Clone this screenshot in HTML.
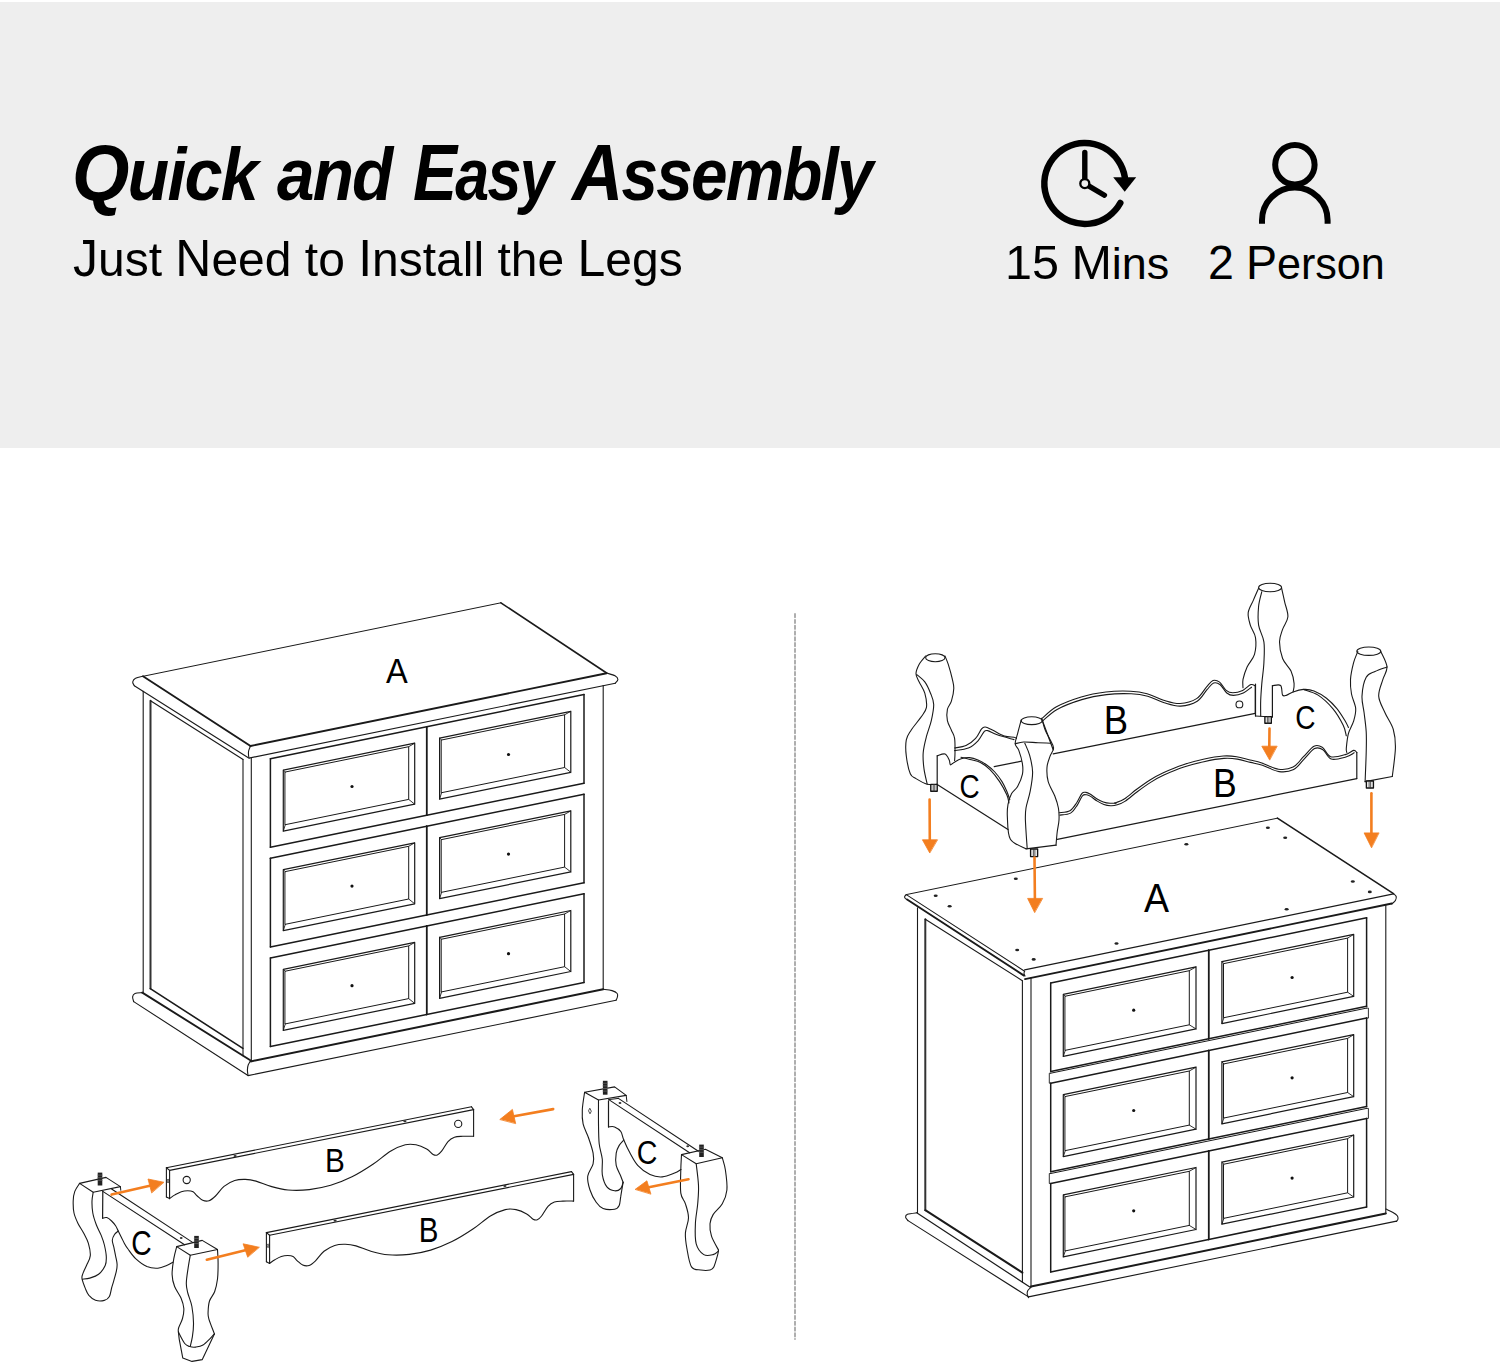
<!DOCTYPE html>
<html><head><meta charset="utf-8">
<style>
html,body{margin:0;padding:0;}
body{width:1500px;height:1365px;background:#fff;position:relative;overflow:hidden;font-family:"Liberation Sans",sans-serif;color:#000;}
.band{position:absolute;left:0;top:2px;width:1500px;height:446px;background:#eeeeee;}
.t{position:absolute;white-space:nowrap;line-height:1;}
.tw{top:133px;font-size:74px;font-weight:bold;font-style:italic;letter-spacing:-2px;transform-origin:0 0;}
.tw .c{font-size:80px;}
#sub{left:72.7px;top:233.3px;font-size:49px;transform-origin:0 0;transform:scaleX(0.9795);}
#sub .C{font-size:51px;}
#mins{left:1004.9px;top:239px;font-size:44px;transform-origin:0 0;transform:scaleX(1.021);}
#mins .C{font-size:47.5px;}
#pers{left:1208px;top:238.7px;font-size:44px;transform-origin:0 0;transform:scaleX(0.98);}
#pers .C{font-size:47.5px;}
svg{position:absolute;left:0;top:0;}
</style></head><body>
<div class="band"></div>
<div class="t tw" id="tw1" style="left:71.7px;transform:scaleX(0.923)"><span class="c">Q</span>uick</div><div class="t tw" id="tw2" style="left:277px;transform:scaleX(0.912)"><span class="c">&#8203;</span>and</div><div class="t tw" id="tw3" style="left:412.6px;transform:scaleX(0.824)"><span class="c">E</span>asy</div><div class="t tw" id="tw4" style="left:572.2px;transform:scaleX(0.887)"><span class="c">A</span>ssembly</div>
<div class="t" id="sub"><span class="C">J</span>ust <span class="C">N</span>eed to <span class="C">I</span>nstall the <span class="C">L</span>egs</div>
<div class="t" id="mins"><span class="C">15</span> <span class="C">M</span>ins</div>
<div class="t" id="pers"><span class="C">2</span> <span class="C">P</span>erson</div>
<svg width="1500" height="1365" viewBox="0 0 1500 1365">
<g id="icons" fill="none" stroke="#000">
<path d="M1120.3 203.0 A40.5 40.5 0 1 1 1124.8 177.0" stroke-width="6.5" stroke-linecap="round"/>
<path d="M1113.2 177.2 L1136.2 177.2 L1124.7 191.7 Z" fill="#000" stroke="none"/>
<path d="M1084.8 152.5 L1084.8 183.6 L1104.4 195.2" stroke-width="5.4" stroke-linecap="round" stroke-linejoin="round"/>
<circle cx="1084.8" cy="183.6" r="4.5" stroke-width="2.3" fill="#eee"/>
<circle cx="1294.9" cy="164.8" r="19.7" stroke-width="6"/>
<path d="M1262 223.7 L1262 220.3 A32.8 32.8 0 0 1 1327.6 220.3 L1327.6 223.7" stroke-width="6"/>
</g>









<!--GEN--><g stroke-linecap="round" stroke-linejoin="round">
<path d="M143 676.3 L500.9 602.8" stroke="#1a1a1a" stroke-width="1.0"/>
<path d="M500.9 602.8 L606.6 673" stroke="#1a1a1a" stroke-width="1.6"/>
<path d="M143 676.3 L250.5 746" stroke="#1a1a1a" stroke-width="1.9"/>
<path d="M250.5 746 L606.6 673.2" stroke="#1a1a1a" stroke-width="1.9"/>
<path d="M143 676.3 C141.8 676.6 137.2 677.3 135.5 678.3 C133.8 679.2 132.9 680.8 132.7 682 C132.5 683.2 134 685.1 134.3 685.7" stroke="#1a1a1a" stroke-width="1.1" fill="none"/>
<path d="M134.3 685.7 L248.3 757.8" stroke="#1a1a1a" stroke-width="1.1"/>
<path d="M250.5 746 C250.2 746.8 248.9 749.5 248.6 751 C248.3 752.5 248.4 753.8 248.5 755 C248.6 756.2 248.9 757.5 249 758" stroke="#1a1a1a" stroke-width="1.1" fill="none"/>
<path d="M249 758.1 L615.3 683.2" stroke="#1a1a1a" stroke-width="1.1"/>
<path d="M606.6 673 C608 673.5 613.1 674.7 615 675.8 C616.9 676.9 617.9 678.3 617.9 679.5 C617.9 680.7 615.7 682.6 615.3 683.2" stroke="#1a1a1a" stroke-width="1.1" fill="none"/>
<path d="M143.2 691.3 L143.2 992.6" stroke="#1a1a1a" stroke-width="1.1"/>
<path d="M150.5 700.7 L150.5 988.6" stroke="#333" stroke-width="2.0"/>
<path d="M150.5 700.7 L242.7 759.2" stroke="#1a1a1a" stroke-width="1.1"/>
<path d="M150.3 988.6 L242.9 1048.4" stroke="#1a1a1a" stroke-width="1.6"/>
<path d="M243 759.2 L243 1055.7" stroke="#1a1a1a" stroke-width="1.1"/>
<path d="M251.3 757.6 L251.3 1061.3" stroke="#1a1a1a" stroke-width="1.1"/>
<path d="M603.2 685.6 L603.2 989.3" stroke="#1a1a1a" stroke-width="1.1"/>
<path d="M270.4 758.7 L426.7 726.7" stroke="#1a1a1a" stroke-width="1.5"/>
<path d="M270.4 847.3 L426.7 815.3" stroke="#1a1a1a" stroke-width="1.5"/>
<path d="M270.4 758.7 L270.4 847.3" stroke="#1a1a1a" stroke-width="1.5"/>
<path d="M426.7 726.7 L426.7 815.3" stroke="#1a1a1a" stroke-width="1.5"/>
<path d="M283.3 770.1 L414.7 743.2 L414.7 804.2 L283.3 831.1 Z" stroke="#1a1a1a" stroke-width="1.2" fill="none"/>
<path d="M285.3 772 L408.7 746.7 L408.7 799.4 L285.3 824.7 Z" stroke="#1a1a1a" stroke-width="1.0" fill="none"/>
<path d="M283.3 770.1 L285.3 772" stroke="#1a1a1a" stroke-width="0.9"/>
<path d="M414.7 743.2 L408.7 746.7" stroke="#1a1a1a" stroke-width="0.9"/>
<path d="M414.7 804.2 L408.7 799.4" stroke="#1a1a1a" stroke-width="0.9"/>
<path d="M283.3 831.1 L285.3 824.7" stroke="#1a1a1a" stroke-width="0.9"/>
<circle cx="352" cy="786.5" r="1.6" fill="#111"/>
<path d="M426.7 726.7 L584 694.6" stroke="#1a1a1a" stroke-width="1.5"/>
<path d="M426.7 815.3 L584 783.2" stroke="#1a1a1a" stroke-width="1.5"/>
<path d="M426.7 726.7 L426.7 815.3" stroke="#1a1a1a" stroke-width="1.5"/>
<path d="M584 694.6 L584 783.2" stroke="#1a1a1a" stroke-width="1.5"/>
<path d="M439.6 738.1 L570.8 711.3 L570.8 772.3 L439.6 799.1 Z" stroke="#1a1a1a" stroke-width="1.2" fill="none"/>
<path d="M441.6 740 L564.6 714.8 L564.6 767.5 L441.6 792.7 Z" stroke="#1a1a1a" stroke-width="1.0" fill="none"/>
<path d="M439.6 738.1 L441.6 740" stroke="#1a1a1a" stroke-width="0.9"/>
<path d="M570.8 711.3 L564.6 714.8" stroke="#1a1a1a" stroke-width="0.9"/>
<path d="M570.8 772.3 L564.6 767.5" stroke="#1a1a1a" stroke-width="0.9"/>
<path d="M439.6 799.1 L441.6 792.7" stroke="#1a1a1a" stroke-width="0.9"/>
<circle cx="508.5" cy="754.5" r="1.6" fill="#111"/>
<path d="M270.4 858.3 L426.7 826.3" stroke="#1a1a1a" stroke-width="1.5"/>
<path d="M270.4 946.9 L426.7 914.9" stroke="#1a1a1a" stroke-width="1.5"/>
<path d="M270.4 858.3 L270.4 946.9" stroke="#1a1a1a" stroke-width="1.5"/>
<path d="M426.7 826.3 L426.7 914.9" stroke="#1a1a1a" stroke-width="1.5"/>
<path d="M283.3 869.7 L414.7 842.8 L414.7 903.8 L283.3 930.7 Z" stroke="#1a1a1a" stroke-width="1.2" fill="none"/>
<path d="M285.3 871.6 L408.7 846.3 L408.7 899 L285.3 924.3 Z" stroke="#1a1a1a" stroke-width="1.0" fill="none"/>
<path d="M283.3 869.7 L285.3 871.6" stroke="#1a1a1a" stroke-width="0.9"/>
<path d="M414.7 842.8 L408.7 846.3" stroke="#1a1a1a" stroke-width="0.9"/>
<path d="M414.7 903.8 L408.7 899" stroke="#1a1a1a" stroke-width="0.9"/>
<path d="M283.3 930.7 L285.3 924.3" stroke="#1a1a1a" stroke-width="0.9"/>
<circle cx="352" cy="886.1" r="1.6" fill="#111"/>
<path d="M426.7 826.3 L584 794.2" stroke="#1a1a1a" stroke-width="1.5"/>
<path d="M426.7 914.9 L584 882.8" stroke="#1a1a1a" stroke-width="1.5"/>
<path d="M426.7 826.3 L426.7 914.9" stroke="#1a1a1a" stroke-width="1.5"/>
<path d="M584 794.2 L584 882.8" stroke="#1a1a1a" stroke-width="1.5"/>
<path d="M439.6 837.7 L570.8 810.9 L570.8 871.9 L439.6 898.7 Z" stroke="#1a1a1a" stroke-width="1.2" fill="none"/>
<path d="M441.6 839.6 L564.6 814.4 L564.6 867.1 L441.6 892.3 Z" stroke="#1a1a1a" stroke-width="1.0" fill="none"/>
<path d="M439.6 837.7 L441.6 839.6" stroke="#1a1a1a" stroke-width="0.9"/>
<path d="M570.8 810.9 L564.6 814.4" stroke="#1a1a1a" stroke-width="0.9"/>
<path d="M570.8 871.9 L564.6 867.1" stroke="#1a1a1a" stroke-width="0.9"/>
<path d="M439.6 898.7 L441.6 892.3" stroke="#1a1a1a" stroke-width="0.9"/>
<circle cx="508.5" cy="854.1" r="1.6" fill="#111"/>
<path d="M270.4 957.9 L426.7 925.9" stroke="#1a1a1a" stroke-width="1.5"/>
<path d="M270.4 1046.5 L426.7 1014.5" stroke="#1a1a1a" stroke-width="1.5"/>
<path d="M270.4 957.9 L270.4 1046.5" stroke="#1a1a1a" stroke-width="1.5"/>
<path d="M426.7 925.9 L426.7 1014.5" stroke="#1a1a1a" stroke-width="1.5"/>
<path d="M283.3 969.3 L414.7 942.4 L414.7 1003.4 L283.3 1030.3 Z" stroke="#1a1a1a" stroke-width="1.2" fill="none"/>
<path d="M285.3 971.2 L408.7 945.9 L408.7 998.6 L285.3 1023.9 Z" stroke="#1a1a1a" stroke-width="1.0" fill="none"/>
<path d="M283.3 969.3 L285.3 971.2" stroke="#1a1a1a" stroke-width="0.9"/>
<path d="M414.7 942.4 L408.7 945.9" stroke="#1a1a1a" stroke-width="0.9"/>
<path d="M414.7 1003.4 L408.7 998.6" stroke="#1a1a1a" stroke-width="0.9"/>
<path d="M283.3 1030.3 L285.3 1023.9" stroke="#1a1a1a" stroke-width="0.9"/>
<circle cx="352" cy="985.7" r="1.6" fill="#111"/>
<path d="M426.7 925.9 L584 893.8" stroke="#1a1a1a" stroke-width="1.5"/>
<path d="M426.7 1014.5 L584 982.4" stroke="#1a1a1a" stroke-width="1.5"/>
<path d="M426.7 925.9 L426.7 1014.5" stroke="#1a1a1a" stroke-width="1.5"/>
<path d="M584 893.8 L584 982.4" stroke="#1a1a1a" stroke-width="1.5"/>
<path d="M439.6 937.3 L570.8 910.5 L570.8 971.5 L439.6 998.3 Z" stroke="#1a1a1a" stroke-width="1.2" fill="none"/>
<path d="M441.6 939.2 L564.6 914 L564.6 966.7 L441.6 991.9 Z" stroke="#1a1a1a" stroke-width="1.0" fill="none"/>
<path d="M439.6 937.3 L441.6 939.2" stroke="#1a1a1a" stroke-width="0.9"/>
<path d="M570.8 910.5 L564.6 914" stroke="#1a1a1a" stroke-width="0.9"/>
<path d="M570.8 971.5 L564.6 966.7" stroke="#1a1a1a" stroke-width="0.9"/>
<path d="M439.6 998.3 L441.6 991.9" stroke="#1a1a1a" stroke-width="0.9"/>
<circle cx="508.5" cy="953.7" r="1.6" fill="#111"/>
<path d="M142.3 992.6 C141.1 992.8 136.6 992.8 135 993.5 C133.4 994.2 132.8 995.4 132.6 996.8 C132.4 998.1 133.5 1000.8 133.7 1001.6" stroke="#1a1a1a" stroke-width="1.1" fill="none"/>
<path d="M142.3 992.6 L250.7 1060.5" stroke="#1a1a1a" stroke-width="1.9"/>
<path d="M133.7 1001.6 L247.6 1075.3" stroke="#1a1a1a" stroke-width="1.1"/>
<path d="M250.7 1060.5 C250.3 1061.2 248.8 1063.4 248.2 1065 C247.6 1066.6 247.4 1068.3 247.4 1070 C247.4 1071.7 247.9 1074.4 248 1075.3" stroke="#1a1a1a" stroke-width="1.1" fill="none"/>
<path d="M250.7 1061.4 L603.2 989.3" stroke="#1a1a1a" stroke-width="2.0"/>
<path d="M248 1075.6 L616 1000.3" stroke="#1a1a1a" stroke-width="1.1"/>
<path d="M603.4 989.3 C604.8 989.5 609.7 989.9 612 990.6 C614.3 991.3 616.3 992.4 617.2 993.5 C618.1 994.6 617.6 995.9 617.4 997 C617.2 998.1 616.2 999.8 616 1000.3" stroke="#1a1a1a" stroke-width="1.1" fill="none"/>
<path d="M906.3 894.6 L1277.4 818.2" stroke="#1a1a1a" stroke-width="1.0"/>
<path d="M1277.4 818.2 L1393.5 893.6" stroke="#1a1a1a" stroke-width="1.6"/>
<path d="M906.3 894.6 L1024.6 971.2" stroke="#1a1a1a" stroke-width="1.1"/>
<path d="M1024.6 969.9 L1393.5 893.9" stroke="#1a1a1a" stroke-width="1.1"/>
<path d="M906.3 894.6 C906 894.9 904.8 896 904.6 896.6 C904.4 897.2 904.9 898 905.3 898.5 C905.7 899 906.8 899.3 907.1 899.5" stroke="#1a1a1a" stroke-width="1.1" fill="none"/>
<path d="M907.1 899.5 L1024 975.6" stroke="#1a1a1a" stroke-width="1.9"/>
<path d="M1024.6 971.2 C1024.5 971.6 1023.9 972.7 1024 973.5 C1024.1 974.3 1024.8 975.7 1025 976.1" stroke="#1a1a1a" stroke-width="1.1" fill="none"/>
<path d="M1025 979.1 L1391.8 903.5" stroke="#1a1a1a" stroke-width="1.9"/>
<path d="M1393.5 893.6 C1394 894.1 1395.9 895.4 1396.2 896.5 C1396.5 897.6 1396.1 899.2 1395.4 900.5 C1394.7 901.8 1392.4 903.4 1391.8 904" stroke="#1a1a1a" stroke-width="1.1" fill="none"/>
<path d="M917.5 907.9 L917.5 1212.8" stroke="#1a1a1a" stroke-width="1.1"/>
<path d="M925.3 919.2 L925.3 1210.2" stroke="#333" stroke-width="2.0"/>
<path d="M925.3 919.2 L1022.4 980.7" stroke="#1a1a1a" stroke-width="1.1"/>
<path d="M925.3 1210.2 L1022.4 1272.6" stroke="#1a1a1a" stroke-width="2.0"/>
<path d="M1022.4 980.7 L1022.4 1282.2" stroke="#1a1a1a" stroke-width="1.1"/>
<path d="M1031 977.8 L1031 1286.6" stroke="#1a1a1a" stroke-width="1.1"/>
<path d="M1385.8 904.7 L1385.8 1213.5" stroke="#1a1a1a" stroke-width="1.1"/>
<path d="M1050.7 982.9 L1208.7 950.3" stroke="#1a1a1a" stroke-width="1.5"/>
<path d="M1050.7 1071.4 L1208.7 1038.8" stroke="#1a1a1a" stroke-width="1.5"/>
<path d="M1050.7 982.9 L1050.7 1071.4" stroke="#1a1a1a" stroke-width="1.5"/>
<path d="M1208.7 950.3 L1208.7 1038.8" stroke="#1a1a1a" stroke-width="1.5"/>
<path d="M1063.3 994.3 L1196 966.9 L1196 1028.9 L1063.3 1056.3 Z" stroke="#1a1a1a" stroke-width="1.2" fill="none"/>
<path d="M1065.3 996.2 L1189.3 970.7 L1189.3 1024.8 L1065.3 1050.3 Z" stroke="#1a1a1a" stroke-width="1.0" fill="none"/>
<path d="M1063.3 994.3 L1065.3 996.2" stroke="#1a1a1a" stroke-width="0.9"/>
<path d="M1196 966.9 L1189.3 970.7" stroke="#1a1a1a" stroke-width="0.9"/>
<path d="M1196 1028.9 L1189.3 1024.8" stroke="#1a1a1a" stroke-width="0.9"/>
<path d="M1063.3 1056.3 L1065.3 1050.3" stroke="#1a1a1a" stroke-width="0.9"/>
<circle cx="1133.7" cy="1010.2" r="1.6" fill="#111"/>
<path d="M1208.7 950.3 L1366.6 917.8" stroke="#1a1a1a" stroke-width="1.5"/>
<path d="M1208.7 1038.8 L1366.6 1006.3" stroke="#1a1a1a" stroke-width="1.5"/>
<path d="M1208.7 950.3 L1208.7 1038.8" stroke="#1a1a1a" stroke-width="1.5"/>
<path d="M1366.6 917.8 L1366.6 1006.3" stroke="#1a1a1a" stroke-width="1.5"/>
<path d="M1221.9 961.6 L1353.7 934.4 L1353.7 996.4 L1221.9 1023.6 Z" stroke="#1a1a1a" stroke-width="1.2" fill="none"/>
<path d="M1223.9 963.6 L1347.6 938.1 L1347.6 992.2 L1223.9 1017.7 Z" stroke="#1a1a1a" stroke-width="1.0" fill="none"/>
<path d="M1221.9 961.6 L1223.9 963.6" stroke="#1a1a1a" stroke-width="0.9"/>
<path d="M1353.7 934.4 L1347.6 938.1" stroke="#1a1a1a" stroke-width="0.9"/>
<path d="M1353.7 996.4 L1347.6 992.2" stroke="#1a1a1a" stroke-width="0.9"/>
<path d="M1221.9 1023.6 L1223.9 1017.7" stroke="#1a1a1a" stroke-width="0.9"/>
<circle cx="1292.1" cy="977.5" r="1.6" fill="#111"/>
<path d="M1050.7 1073.2 L1366.6 1008.1" stroke="#1a1a1a" stroke-width="1.0"/>
<path d="M1050.7 1073.2 L1049.3 1073.2 L1049.3 1083.2 L1050.7 1083.2" stroke="#1a1a1a" stroke-width="0.9" fill="none"/>
<path d="M1366.6 1008.1 L1368.4 1008.1 L1368.4 1018.1 L1366.6 1018.1" stroke="#1a1a1a" stroke-width="0.9" fill="none"/>
<path d="M1050.7 1083.2 L1208.7 1050.6" stroke="#1a1a1a" stroke-width="1.5"/>
<path d="M1050.7 1171.7 L1208.7 1139.1" stroke="#1a1a1a" stroke-width="1.5"/>
<path d="M1050.7 1083.2 L1050.7 1171.7" stroke="#1a1a1a" stroke-width="1.5"/>
<path d="M1208.7 1050.6 L1208.7 1139.1" stroke="#1a1a1a" stroke-width="1.5"/>
<path d="M1063.3 1094.6 L1196 1067.2 L1196 1129.2 L1063.3 1156.6 Z" stroke="#1a1a1a" stroke-width="1.2" fill="none"/>
<path d="M1065.3 1096.5 L1189.3 1071 L1189.3 1125.1 L1065.3 1150.6 Z" stroke="#1a1a1a" stroke-width="1.0" fill="none"/>
<path d="M1063.3 1094.6 L1065.3 1096.5" stroke="#1a1a1a" stroke-width="0.9"/>
<path d="M1196 1067.2 L1189.3 1071" stroke="#1a1a1a" stroke-width="0.9"/>
<path d="M1196 1129.2 L1189.3 1125.1" stroke="#1a1a1a" stroke-width="0.9"/>
<path d="M1063.3 1156.6 L1065.3 1150.6" stroke="#1a1a1a" stroke-width="0.9"/>
<circle cx="1133.7" cy="1110.5" r="1.6" fill="#111"/>
<path d="M1208.7 1050.6 L1366.6 1018.1" stroke="#1a1a1a" stroke-width="1.5"/>
<path d="M1208.7 1139.1 L1366.6 1106.6" stroke="#1a1a1a" stroke-width="1.5"/>
<path d="M1208.7 1050.6 L1208.7 1139.1" stroke="#1a1a1a" stroke-width="1.5"/>
<path d="M1366.6 1018.1 L1366.6 1106.6" stroke="#1a1a1a" stroke-width="1.5"/>
<path d="M1221.9 1061.9 L1353.7 1034.7 L1353.7 1096.7 L1221.9 1123.9 Z" stroke="#1a1a1a" stroke-width="1.2" fill="none"/>
<path d="M1223.9 1063.9 L1347.6 1038.4 L1347.6 1092.5 L1223.9 1118 Z" stroke="#1a1a1a" stroke-width="1.0" fill="none"/>
<path d="M1221.9 1061.9 L1223.9 1063.9" stroke="#1a1a1a" stroke-width="0.9"/>
<path d="M1353.7 1034.7 L1347.6 1038.4" stroke="#1a1a1a" stroke-width="0.9"/>
<path d="M1353.7 1096.7 L1347.6 1092.5" stroke="#1a1a1a" stroke-width="0.9"/>
<path d="M1221.9 1123.9 L1223.9 1118" stroke="#1a1a1a" stroke-width="0.9"/>
<circle cx="1292.1" cy="1077.8" r="1.6" fill="#111"/>
<path d="M1050.7 1173.5 L1366.6 1108.4" stroke="#1a1a1a" stroke-width="1.0"/>
<path d="M1050.7 1173.5 L1049.3 1173.5 L1049.3 1183.5 L1050.7 1183.5" stroke="#1a1a1a" stroke-width="0.9" fill="none"/>
<path d="M1366.6 1108.4 L1368.4 1108.4 L1368.4 1118.4 L1366.6 1118.4" stroke="#1a1a1a" stroke-width="0.9" fill="none"/>
<path d="M1050.7 1183.5 L1208.7 1150.9" stroke="#1a1a1a" stroke-width="1.5"/>
<path d="M1050.7 1272 L1208.7 1239.4" stroke="#1a1a1a" stroke-width="1.5"/>
<path d="M1050.7 1183.5 L1050.7 1272" stroke="#1a1a1a" stroke-width="1.5"/>
<path d="M1208.7 1150.9 L1208.7 1239.4" stroke="#1a1a1a" stroke-width="1.5"/>
<path d="M1063.3 1194.9 L1196 1167.5 L1196 1229.5 L1063.3 1256.9 Z" stroke="#1a1a1a" stroke-width="1.2" fill="none"/>
<path d="M1065.3 1196.8 L1189.3 1171.3 L1189.3 1225.4 L1065.3 1250.9 Z" stroke="#1a1a1a" stroke-width="1.0" fill="none"/>
<path d="M1063.3 1194.9 L1065.3 1196.8" stroke="#1a1a1a" stroke-width="0.9"/>
<path d="M1196 1167.5 L1189.3 1171.3" stroke="#1a1a1a" stroke-width="0.9"/>
<path d="M1196 1229.5 L1189.3 1225.4" stroke="#1a1a1a" stroke-width="0.9"/>
<path d="M1063.3 1256.9 L1065.3 1250.9" stroke="#1a1a1a" stroke-width="0.9"/>
<circle cx="1133.7" cy="1210.8" r="1.6" fill="#111"/>
<path d="M1208.7 1150.9 L1366.6 1118.4" stroke="#1a1a1a" stroke-width="1.5"/>
<path d="M1208.7 1239.4 L1366.6 1206.9" stroke="#1a1a1a" stroke-width="1.5"/>
<path d="M1208.7 1150.9 L1208.7 1239.4" stroke="#1a1a1a" stroke-width="1.5"/>
<path d="M1366.6 1118.4 L1366.6 1206.9" stroke="#1a1a1a" stroke-width="1.5"/>
<path d="M1221.9 1162.2 L1353.7 1135 L1353.7 1197 L1221.9 1224.2 Z" stroke="#1a1a1a" stroke-width="1.2" fill="none"/>
<path d="M1223.9 1164.2 L1347.6 1138.7 L1347.6 1192.8 L1223.9 1218.3 Z" stroke="#1a1a1a" stroke-width="1.0" fill="none"/>
<path d="M1221.9 1162.2 L1223.9 1164.2" stroke="#1a1a1a" stroke-width="0.9"/>
<path d="M1353.7 1135 L1347.6 1138.7" stroke="#1a1a1a" stroke-width="0.9"/>
<path d="M1353.7 1197 L1347.6 1192.8" stroke="#1a1a1a" stroke-width="0.9"/>
<path d="M1221.9 1224.2 L1223.9 1218.3" stroke="#1a1a1a" stroke-width="0.9"/>
<circle cx="1292.1" cy="1178.1" r="1.6" fill="#111"/>
<path d="M916.7 1212.8 C915.2 1213 909.4 1213.6 907.5 1214.3 C905.6 1215 905.5 1216.2 905.6 1217.2 C905.7 1218.2 907.6 1220 908 1220.6" stroke="#1a1a1a" stroke-width="1.1" fill="none"/>
<path d="M916.7 1212.8 L1030.2 1287.3" stroke="#1a1a1a" stroke-width="1.2"/>
<path d="M908 1220.6 L1028.5 1296.9" stroke="#1a1a1a" stroke-width="1.1"/>
<path d="M1031 1287.3 C1030.5 1287.8 1028.4 1289.4 1027.8 1290.5 C1027.2 1291.6 1027.1 1292.8 1027.2 1294 C1027.3 1295.2 1028.3 1297.1 1028.5 1297.7" stroke="#1a1a1a" stroke-width="1.1" fill="none"/>
<path d="M1031 1286.6 L1385.8 1213.5" stroke="#1a1a1a" stroke-width="2.0"/>
<path d="M1028.5 1296.9 L1396.5 1221.1" stroke="#1a1a1a" stroke-width="1.1"/>
<path d="M1385.9 1209.1 C1387.1 1209.7 1391.1 1211.4 1393 1212.5 C1394.9 1213.6 1396.5 1214.7 1397.3 1215.8 C1398.1 1216.9 1398.1 1218 1398 1219 C1397.9 1220 1396.8 1221.1 1396.5 1221.5" stroke="#1a1a1a" stroke-width="1.1" fill="none"/>
<ellipse cx="935.7" cy="895.8" rx="2" ry="1.3" fill="#222"/>
<ellipse cx="949.6" cy="906.2" rx="2" ry="1.3" fill="#222"/>
<ellipse cx="1015.8" cy="878.8" rx="2" ry="1.3" fill="#222"/>
<ellipse cx="1017.2" cy="950" rx="2" ry="1.3" fill="#222"/>
<ellipse cx="1033.7" cy="959.4" rx="2" ry="1.3" fill="#222"/>
<ellipse cx="1116.5" cy="943.5" rx="2" ry="1.3" fill="#222"/>
<ellipse cx="1267.9" cy="827.7" rx="2" ry="1.3" fill="#222"/>
<ellipse cx="1285.2" cy="837.8" rx="2" ry="1.3" fill="#222"/>
<ellipse cx="1186.4" cy="844.2" rx="2" ry="1.3" fill="#222"/>
<ellipse cx="1352.8" cy="881.5" rx="2" ry="1.3" fill="#222"/>
<ellipse cx="1369.8" cy="891.9" rx="2" ry="1.3" fill="#222"/>
<ellipse cx="1286.6" cy="909.2" rx="2" ry="1.3" fill="#222"/>
<path d="M795 614 L795 1339" stroke="#a6a6a6" stroke-width="1.8" stroke-dasharray="3.3 2.5"/>
<path d="M166.4 1167.8 L471.5 1106.8" stroke="#1a1a1a" stroke-width="1.1"/>
<path d="M169.6 1170.4 L473.6 1109.6" stroke="#1a1a1a" stroke-width="1.1"/>
<path d="M471.5 1106.8 L473.6 1109.6" stroke="#1a1a1a" stroke-width="1.1"/>
<path d="M166.4 1167.8 L169.6 1170.4" stroke="#1a1a1a" stroke-width="1.1"/>
<path d="M473.6 1109.6 L473.6 1136.3" stroke="#1a1a1a" stroke-width="1.1"/>
<path d="M166.4 1167.8 L166.4 1197" stroke="#1a1a1a" stroke-width="1.1"/>
<path d="M169.6 1170.4 L169.6 1198.6" stroke="#1a1a1a" stroke-width="1.1"/>
<path d="M166.4 1197 L169.6 1198.6" stroke="#1a1a1a" stroke-width="1.1"/>
<path d="M169.6 1198.6 C170.5 1198 172.9 1196.1 174.9 1194.9 C176.9 1193.8 179.2 1192.4 181.3 1191.7 C183.4 1191 185.7 1190.7 187.7 1190.7 C189.7 1190.7 191.5 1190.8 193.1 1191.7 C194.7 1192.6 195.7 1194.6 197.3 1196 C198.9 1197.4 200.7 1199.5 202.7 1200.3 C204.7 1201.1 207 1201.4 209.1 1200.7 C211.2 1200 213 1198.4 215.5 1196 C218 1193.6 220.8 1189 224 1186.4 C227.2 1183.8 231.1 1181.8 234.7 1180.6 C238.2 1179.4 241.8 1179.3 245.3 1179.4 C248.9 1179.5 251.7 1179.9 256 1181.1 C260.3 1182.3 265.6 1184.9 270.9 1186.4 C276.2 1187.9 281.6 1189.5 288 1190 C294.4 1190.5 302.2 1190.4 309.3 1189.6 C316.4 1188.8 323.6 1187.4 330.7 1185.3 C337.8 1183.2 344.9 1180.3 352 1176.8 C359.1 1173.2 366.9 1168.3 373.3 1164 C379.7 1159.7 385.1 1154.4 390.4 1151.2 C395.7 1148 401 1145.9 405.3 1144.8 C409.6 1143.7 412.4 1144.1 416 1144.8 C419.6 1145.5 423.8 1147.5 426.7 1149.1 C429.6 1150.7 431.3 1153.4 433.1 1154.4 C434.9 1155.4 435.9 1155.5 437.3 1155 C438.7 1154.5 439.8 1153.4 441.6 1151.2 C443.4 1149 445.9 1143.9 448 1141.6 C450.1 1139.3 451.9 1138.2 454.4 1137.3 C456.9 1136.4 459.7 1136.5 462.9 1136.3 C466.1 1136.1 471.8 1136.3 473.6 1136.3" stroke="#1a1a1a" stroke-width="1.1" fill="none"/>
<circle cx="186.7" cy="1180" r="3.6" fill="none" stroke="#1a1a1a" stroke-width="1.1"/>
<circle cx="458.2" cy="1123.9" r="3.6" fill="none" stroke="#1a1a1a" stroke-width="1.1"/>
<ellipse cx="168.1" cy="1181" rx="1" ry="1.8" fill="none" stroke="#222" stroke-width="0.8"/>
<ellipse cx="235.1" cy="1155.9" rx="1.6" ry="1" fill="#333"/>
<ellipse cx="404.9" cy="1121.3" rx="1.6" ry="1" fill="#333"/>
<path d="M266.4 1232.6 L571.5 1171.6" stroke="#1a1a1a" stroke-width="1.1"/>
<path d="M269.6 1235.2 L573.6 1174.4" stroke="#1a1a1a" stroke-width="1.1"/>
<path d="M571.5 1171.6 L573.6 1174.4" stroke="#1a1a1a" stroke-width="1.1"/>
<path d="M266.4 1232.6 L269.6 1235.2" stroke="#1a1a1a" stroke-width="1.1"/>
<path d="M573.6 1174.4 L573.6 1201.1" stroke="#1a1a1a" stroke-width="1.1"/>
<path d="M266.4 1232.6 L266.4 1261.8" stroke="#1a1a1a" stroke-width="1.1"/>
<path d="M269.6 1235.2 L269.6 1263.4" stroke="#1a1a1a" stroke-width="1.1"/>
<path d="M266.4 1261.8 L269.6 1263.4" stroke="#1a1a1a" stroke-width="1.1"/>
<path d="M269.6 1263.4 C270.5 1262.8 272.9 1260.8 274.9 1259.7 C276.8 1258.6 279.2 1257.2 281.3 1256.5 C283.4 1255.8 285.7 1255.5 287.7 1255.5 C289.7 1255.5 291.5 1255.6 293.1 1256.5 C294.7 1257.4 295.7 1259.4 297.3 1260.8 C298.9 1262.2 300.7 1264.3 302.7 1265.1 C304.7 1265.9 307 1266.2 309.1 1265.5 C311.2 1264.8 313 1263.2 315.5 1260.8 C318 1258.4 320.8 1253.8 324 1251.2 C327.2 1248.6 331.1 1246.6 334.7 1245.4 C338.2 1244.2 341.8 1244.1 345.3 1244.2 C348.9 1244.3 351.7 1244.7 356 1245.9 C360.3 1247.1 365.6 1249.7 370.9 1251.2 C376.2 1252.7 381.6 1254.3 388 1254.8 C394.4 1255.3 402.2 1255.2 409.3 1254.4 C416.4 1253.6 423.6 1252.2 430.7 1250.1 C437.8 1248 444.9 1245.1 452 1241.6 C459.1 1238 466.9 1233.1 473.3 1228.8 C479.7 1224.5 485.1 1219.2 490.4 1216 C495.7 1212.8 501 1210.7 505.3 1209.6 C509.6 1208.5 512.4 1208.9 516 1209.6 C519.6 1210.3 523.9 1212.3 526.7 1213.9 C529.6 1215.5 531.3 1218.2 533.1 1219.2 C534.9 1220.2 535.9 1220.3 537.3 1219.8 C538.7 1219.3 539.8 1218.2 541.6 1216 C543.4 1213.8 545.9 1208.7 548 1206.4 C550.1 1204.1 551.9 1203 554.4 1202.1 C556.9 1201.2 559.7 1201.3 562.9 1201.1 C566.1 1200.9 571.8 1201.1 573.6 1201.1" stroke="#1a1a1a" stroke-width="1.1" fill="none"/>
<ellipse cx="268.1" cy="1245.8" rx="1" ry="1.8" fill="none" stroke="#222" stroke-width="0.8"/>
<ellipse cx="335.1" cy="1220.7" rx="1.6" ry="1" fill="#333"/>
<ellipse cx="504.9" cy="1186.1" rx="1.6" ry="1" fill="#333"/>
<path d="M79.6 1183.4 L106 1177.4 L120.4 1186.6 L93.2 1192.2 Z" stroke="#1a1a1a" stroke-width="1.1" fill="none"/>
<path d="M120.4 1186.6 L120.8 1190.3" stroke="#1a1a1a" stroke-width="1.0"/>
<rect x="97.7" y="1172.6" width="4.6" height="12.9" fill="#222"/>
<path d="M97.7 1175.1 L102.3 1175.1" stroke="#777" stroke-width="0.6"/>
<path d="M97.7 1177.7 L102.3 1177.7" stroke="#777" stroke-width="0.6"/>
<path d="M97.7 1180.3 L102.3 1180.3" stroke="#777" stroke-width="0.6"/>
<path d="M79.6 1183.4 C78.8 1184.7 75.9 1188.5 74.8 1191.4 C73.7 1194.3 73.3 1197.4 73.2 1201 C73.1 1204.6 73.2 1209.3 74 1213 C74.8 1216.7 76.4 1220.1 78 1223.4 C79.6 1226.7 81.9 1229.7 83.6 1233 C85.3 1236.3 87.3 1239.6 88.4 1243.4 C89.5 1247.2 90.6 1251.9 90.3 1255.6 C90 1259.3 87.8 1262.4 86.5 1265.5 C85.2 1268.6 83.3 1272 82.6 1274.3 C81.9 1276.6 81.6 1276.8 82.1 1279.2 C82.6 1281.6 84.3 1285.9 85.4 1288.6 C86.5 1291.3 87.2 1293.3 88.9 1295.3 C90.6 1297.2 92.9 1299.4 95.5 1300.3 C98.1 1301.2 102 1301.1 104.3 1300.4 C106.6 1299.8 108.2 1298.5 109.4 1296.4 C110.6 1294.3 110.9 1290.6 111.6 1288 C112.3 1285.4 113 1283.5 113.8 1280.6 C114.6 1277.7 115.9 1273.5 116.4 1270.8 C117 1268.1 117.2 1266.7 117.1 1264.2 C117 1261.7 116.1 1258.7 115.6 1256 C115.1 1253.3 114.5 1250.5 114 1247.9 C113.5 1245.3 112.2 1242.4 112.3 1240.2 C112.4 1238 113.5 1236 114.5 1234.5 C115.5 1233 117.6 1231.6 118.2 1231" stroke="#1a1a1a" stroke-width="1.1" fill="none"/>
<path d="M93.2 1192.2 C93 1193.7 92.1 1197.5 92 1201 C91.9 1204.5 92.1 1209 92.8 1213 C93.5 1217 95 1221.3 96.4 1225 C97.8 1228.7 99.9 1232.1 101.2 1235.4 C102.5 1238.7 103.6 1241.5 104.4 1245 C105.2 1248.5 106.2 1253.3 106.3 1256.7 C106.4 1260.1 106.5 1262.6 105.2 1265.5 C103.9 1268.4 101.2 1272.2 98.6 1274.3 C96 1276.4 92.5 1277.3 89.8 1278.1 C87.1 1278.9 83.6 1279 82.4 1279.2" stroke="#1a1a1a" stroke-width="1.1" fill="none"/>
<path d="M102.8 1191.4 L102.6 1218.2" stroke="#1a1a1a" stroke-width="1.2"/>
<path d="M102.6 1218.2 C103.3 1218.1 105.3 1217.1 106.8 1217.6 C108.3 1218.1 110.1 1219.6 111.6 1221 C113.1 1222.4 114.5 1224.2 115.6 1225.8 C116.7 1227.4 117.1 1228.7 118 1230.6 C118.9 1232.5 120.1 1234.9 121.2 1237 C122.3 1239.1 123.3 1241.4 124.4 1243.4 C125.5 1245.4 126.1 1246.4 128 1249 C129.9 1251.6 132.8 1256 135.9 1258.9 C139.1 1261.8 143.2 1265 146.9 1266.6 C150.6 1268.1 154.6 1268.4 157.9 1268.2 C161.2 1268 164.2 1266.5 166.7 1265.5 C169.2 1264.5 171.8 1262.8 172.8 1262.3" stroke="#1a1a1a" stroke-width="1.1" fill="none"/>
<path d="M111.6 1189 L192.6 1242.4" stroke="#1a1a1a" stroke-width="1.1"/>
<path d="M102.8 1191.4 L184.6 1244.8" stroke="#1a1a1a" stroke-width="1.1"/>
<ellipse cx="181.2" cy="1238.1" rx="1.4" ry="1" fill="#333"/>
<path d="M176.7 1246.6 L202.2 1240.4 L217.5 1249.5 L190.3 1255.2 Z" stroke="#1a1a1a" stroke-width="1.1" fill="none"/>
<rect x="194.2" y="1235.9" width="4.6" height="12.1" fill="#222"/>
<path d="M194.2 1238.4 L198.8 1238.4" stroke="#777" stroke-width="0.6"/>
<path d="M194.2 1241 L198.8 1241" stroke="#777" stroke-width="0.6"/>
<path d="M194.2 1243.6 L198.8 1243.6" stroke="#777" stroke-width="0.6"/>
<path d="M176.7 1246.6 C176.2 1248.6 174.6 1253.9 173.8 1258.6 C173 1263.2 172 1269.8 172.1 1274.5 C172.2 1279.2 173.1 1282.6 174.6 1286.5 C176.1 1290.4 179.5 1294.4 181 1298 C182.5 1301.6 183.6 1304.9 183.8 1308.3 C184.1 1311.7 183.4 1315.2 182.5 1318.5 C181.6 1321.8 179.3 1325.7 178.6 1328 C177.9 1330.3 178.4 1331.4 178.4 1332.1" stroke="#1a1a1a" stroke-width="1.1" fill="none"/>
<path d="M178.4 1332.1 L179.2 1339.1 L182.8 1358.1 L192 1361.4 L202.3 1359.6 L214.4 1333.9" stroke="#1a1a1a" stroke-width="1.1" fill="none"/>
<path d="M178.4 1332.1 C179.4 1334 182.8 1341.1 184.7 1343.5 C186.6 1345.9 188 1346 189.8 1346.6 C191.6 1347.2 193.5 1347.4 195.7 1347.1 C197.9 1346.8 200.6 1346.5 203 1345 C205.4 1343.5 208.4 1340.1 210.3 1338.3 C212.2 1336.5 213.7 1334.6 214.4 1333.9" stroke="#1a1a1a" stroke-width="1.1" fill="none"/>
<path d="M190.3 1255.2 C189.9 1257.5 188.7 1264.1 188 1268.8 C187.3 1273.5 186.3 1279.5 186.3 1283.5 C186.3 1287.5 186.9 1289.2 187.8 1293 C188.7 1296.8 191 1301.5 191.9 1306.5 C192.8 1311.5 193.4 1318 193.5 1323 C193.6 1328 193 1332.8 192.4 1336.7 C191.8 1340.6 190.6 1344.8 190.2 1346.4" stroke="#1a1a1a" stroke-width="1.1" fill="none"/>
<path d="M217.5 1249.5 C217.6 1251.8 218.1 1258.2 218.1 1263.1 C218.1 1268 218.1 1274.3 217.5 1279 C216.9 1283.7 216 1287.8 214.7 1291.5 C213.4 1295.2 210.6 1297.6 209.5 1301 C208.4 1304.4 208.2 1309 208.1 1312 C208 1315 207.8 1315.4 208.9 1319.1 C210 1322.8 213.5 1331.4 214.4 1333.9" stroke="#1a1a1a" stroke-width="1.1" fill="none"/>
<path d="M584.6 1092.3 L614.6 1086.9 L626.2 1095.4 L598.5 1100 Z" stroke="#1a1a1a" stroke-width="1.1" fill="none"/>
<path d="M626.2 1095.4 L626.9 1101.5" stroke="#1a1a1a" stroke-width="1.0"/>
<rect x="602.9" y="1080.8" width="4.6" height="13.9" fill="#222"/>
<path d="M602.9 1083.3 L607.5 1083.3" stroke="#777" stroke-width="0.6"/>
<path d="M602.9 1085.9 L607.5 1085.9" stroke="#777" stroke-width="0.6"/>
<path d="M602.9 1088.5 L607.5 1088.5" stroke="#777" stroke-width="0.6"/>
<path d="M602.9 1091.1 L607.5 1091.1" stroke="#777" stroke-width="0.6"/>
<path d="M584.6 1092.3 C584.2 1095.2 582.5 1104.8 582.3 1110 C582 1115.2 582.1 1119.2 583.1 1123.8 C584.1 1128.4 586.8 1132.8 588.5 1137.7 C590.2 1142.6 592.3 1148.8 593.1 1153.1 C593.9 1157.4 594 1159.9 593.1 1163.8 C592.2 1167.7 588.2 1171.8 587.7 1176.2 C587.2 1180.6 588.6 1185.7 590 1190 C591.4 1194.3 594 1199.2 596.2 1202.3 C598.4 1205.4 600 1207.3 603.1 1208.5 C606.2 1209.7 611.9 1209.7 614.6 1209.2 C617.3 1208.7 618.2 1207.6 619.2 1205.4 C620.2 1203.2 620.1 1200.1 620.8 1196.2 C621.4 1192.3 622.7 1184.6 623.1 1182.3" stroke="#1a1a1a" stroke-width="1.1" fill="none"/>
<path d="M598.5 1100 C598.5 1104 598.4 1116.5 598.5 1123.8 C598.6 1131.1 598.6 1137.9 599.2 1143.8 C599.8 1149.7 601.8 1154.1 602.3 1159.2 C602.8 1164.3 601.5 1170 602.3 1174.6 C603.1 1179.2 604.8 1184.2 606.9 1186.9 C609 1189.6 612.3 1190.5 614.6 1190.8 C616.9 1191.1 619.4 1189.9 620.8 1188.5 C622.2 1187.1 622.7 1183.3 623.1 1182.3" stroke="#1a1a1a" stroke-width="1.1" fill="none"/>
<path d="M608.5 1100.8 L608.5 1126.9" stroke="#1a1a1a" stroke-width="1.2"/>
<path d="M608.5 1126.9 C609.5 1126.9 612.6 1126.1 614.6 1126.9 C616.6 1127.7 619.3 1129.3 620.8 1131.5 C622.3 1133.7 622.3 1136.4 623.8 1140 C625.3 1143.6 627.7 1148.9 630 1153.1 C632.3 1157.3 634.4 1161.8 637.7 1165.4 C641 1169 645.9 1172.7 650 1174.6 C654.1 1176.5 658.2 1177.2 662.3 1176.9 C666.4 1176.7 671.5 1174.3 674.6 1173.1 C677.7 1171.9 679.9 1170.1 681 1169.5" stroke="#1a1a1a" stroke-width="1.1" fill="none"/>
<path d="M623.8 1140 C623 1140.9 620.5 1143.2 619.2 1145.4 C617.9 1147.6 616.7 1149.8 616.2 1153.1 C615.7 1156.4 615.4 1161.6 616.2 1165.4 C617 1169.2 619.6 1173.4 620.8 1176.2 C621.9 1179 622.7 1181.3 623.1 1182.3" stroke="#1a1a1a" stroke-width="1.1" fill="none"/>
<path d="M590 1108.6 L591.3 1111.2 L590 1113.8 L588.7 1111.2 Z" fill="none" stroke="#222" stroke-width="0.8"/>
<path d="M608.8 1099.6 L689.6 1152.8" stroke="#1a1a1a" stroke-width="1.1"/>
<path d="M618.4 1098.4 L698.4 1151.2" stroke="#1a1a1a" stroke-width="1.1"/>
<path d="M608.8 1099.6 L618.4 1098.4" stroke="#1a1a1a" stroke-width="1.0"/>
<ellipse cx="620" cy="1103.1" rx="1.4" ry="1" fill="#333"/><ellipse cx="687.7" cy="1146.2" rx="1.4" ry="1" fill="#333"/>
<path d="M681.5 1154.6 L705.4 1149.2 L722.3 1157.7 L696.2 1163.8 Z" stroke="#1a1a1a" stroke-width="1.1" fill="none"/>
<rect x="699.2" y="1144.6" width="4.6" height="12.4" fill="#222"/>
<path d="M699.2 1147.1 L703.8 1147.1" stroke="#777" stroke-width="0.6"/>
<path d="M699.2 1149.7 L703.8 1149.7" stroke="#777" stroke-width="0.6"/>
<path d="M699.2 1152.3 L703.8 1152.3" stroke="#777" stroke-width="0.6"/>
<path d="M681.5 1154.6 C681.4 1157.2 680.9 1163.6 680.8 1170 C680.7 1176.4 680 1187.5 680.8 1193.1 C681.6 1198.7 684.1 1199.7 685.4 1203.8 C686.7 1207.9 688.5 1212.8 688.5 1217.7 C688.5 1222.6 685.7 1228 685.4 1233.1 C685.1 1238.2 685.9 1242.9 686.9 1248.5 C687.9 1254.1 689.2 1263.3 691.5 1266.9 C693.8 1270.5 697.7 1269.5 700.8 1270 C703.9 1270.5 707.8 1270.5 710 1270 C712.2 1269.5 712.5 1269.5 713.8 1266.9 C715.1 1264.3 716.9 1257.4 717.7 1254.6 C718.5 1251.8 718.4 1250.8 718.5 1250" stroke="#1a1a1a" stroke-width="1.1" fill="none"/>
<path d="M696.2 1163.8 C696.6 1167.4 698.2 1178.7 698.5 1185.4 C698.8 1192.1 698.2 1197.4 697.7 1203.8 C697.2 1210.2 695.6 1217.1 695.4 1223.8 C695.1 1230.5 694.8 1238.7 696.2 1243.8 C697.6 1248.9 701 1252.8 703.8 1254.6 C706.6 1256.4 710.6 1255.2 713.1 1254.6 C715.6 1254 717.6 1251.6 718.5 1251" stroke="#1a1a1a" stroke-width="1.1" fill="none"/>
<path d="M722.3 1157.7 C722.8 1159.8 724.6 1164.6 725.4 1170 C726.2 1175.4 727.4 1184.4 726.9 1190 C726.4 1195.6 724.6 1199.7 722.3 1203.8 C720 1207.9 715.1 1211.3 713.1 1214.6 C711.1 1217.9 710.3 1220.2 710 1223.8 C709.7 1227.4 710.1 1231.8 711.5 1236.2 C712.9 1240.6 717.3 1247.7 718.5 1250" stroke="#1a1a1a" stroke-width="1.1" fill="none"/>
<path d="M111.6 1194.6 L149.8 1185.8" stroke="#f37e1f" stroke-width="2.6" stroke-linecap="round"/>
<path d="M163.6 1182.2 L148 1179 L151.6 1192.6 Z" fill="#f37e1f" stroke="#f37e1f" stroke-width="0.8" stroke-linejoin="round"/>
<path d="M206.8 1259.7 L245.3 1250.3" stroke="#f37e1f" stroke-width="2.6" stroke-linecap="round"/>
<path d="M259 1247.2 L243.1 1243.8 L247.6 1256.9 Z" fill="#f37e1f" stroke="#f37e1f" stroke-width="0.8" stroke-linejoin="round"/>
<path d="M553.2 1109.1 L514 1116.3" stroke="#f37e1f" stroke-width="2.6" stroke-linecap="round"/>
<path d="M500.1 1119.3 L512.4 1109.4 L515.6 1123.3 Z" fill="#f37e1f" stroke="#f37e1f" stroke-width="0.8" stroke-linejoin="round"/>
<path d="M688.5 1179.2 L648.8 1187.3" stroke="#f37e1f" stroke-width="2.6" stroke-linecap="round"/>
<path d="M635.4 1189.2 L646.9 1180.8 L650.8 1193.8 Z" fill="#f37e1f" stroke="#f37e1f" stroke-width="0.8" stroke-linejoin="round"/>
<path d="M1042 718.4 C1044.4 716.5 1050 710.4 1056.5 706.8 C1063 703.2 1073 699.5 1081.2 697 C1089.4 694.5 1097.7 693 1105.9 692 C1114.1 691 1123.7 690.9 1130.6 691.2 C1137.5 691.5 1141.6 692.2 1147.1 693.7 C1152.6 695.2 1158.1 698.6 1163.6 700.2 C1169.1 701.8 1174.6 703.8 1180.1 703.5 C1185.6 703.2 1192.2 701.3 1196.6 698.6 C1201 695.9 1203.7 690.1 1206.4 687.1 C1209.1 684.1 1210.8 681.3 1213 680.5 C1215.2 679.7 1217.4 680.5 1219.6 682.1 C1221.8 683.8 1224 688.6 1226.2 690.4 C1228.4 692.2 1230 692.8 1232.8 692.8 C1235.5 692.8 1239.7 691.8 1242.7 690.4 C1245.7 689 1248.8 685.3 1250.9 684.6 C1253 683.9 1254.6 685.8 1255.3 686" stroke="#1a1a1a" stroke-width="1.1" fill="none"/>
<path d="M1042.6 721 C1045 719.1 1050.6 713 1057.1 709.4 C1063.6 705.8 1073.6 702.1 1081.8 699.6 C1090 697.1 1098.3 695.6 1106.5 694.6 C1114.7 693.6 1124.3 693.5 1131.2 693.8 C1138.1 694.1 1142.2 694.8 1147.7 696.3 C1153.2 697.8 1158.7 701.2 1164.2 702.8 C1169.7 704.4 1175.2 706.4 1180.7 706.1 C1186.2 705.8 1192.8 703.9 1197.2 701.2 C1201.6 698.5 1204.3 692.7 1207 689.7 C1209.7 686.7 1211.4 683.9 1213.6 683.1 C1215.8 682.3 1218 683.1 1220.2 684.7 C1222.4 686.4 1224.6 691.2 1226.8 693 C1229 694.8 1230.6 695.4 1233.4 695.4 C1236.1 695.4 1240.3 694.4 1243.3 693 C1246.3 691.6 1250.1 688.2 1251.5 687.2" stroke="#1a1a1a" stroke-width="1.1" fill="none"/>
<path d="M1255.3 686 L1255.3 713.4" stroke="#1a1a1a" stroke-width="1.2"/>
<path d="M1053.2 753.8 L1255.3 713.4" stroke="#1a1a1a" stroke-width="1.2"/>
<path d="M994.2 766.6 L1021.4 761.2" stroke="#1a1a1a" stroke-width="1.2"/>
<circle cx="1239.4" cy="704.4" r="3.4" fill="none" stroke="#1a1a1a" stroke-width="1.1"/>
<path d="M954.6 748 C956.5 747.6 962.5 747.2 966 745.6 C969.5 744 973 741.2 975.6 738.4 C978.2 735.6 980 730.7 981.6 728.8 C983.2 726.9 983.4 726.8 985.2 727 C987 727.2 989.2 728.5 992.4 730 C995.6 731.5 1000.8 734.8 1004.4 736 C1008 737.2 1012 736.8 1014 737.2 C1016 737.6 1016.1 738.2 1016.5 738.4" stroke="#1a1a1a" stroke-width="1.1" fill="none"/>
<path d="M954.6 750.6 C956.9 750.2 964.5 749.6 968.4 748 C972.3 746.4 975.4 743.5 978 740.8 C980.6 738.1 982.4 733.5 984 731.8 C985.6 730.1 985.4 730.1 987.6 730.6 C989.8 731.1 992.8 733.3 997.2 734.8 C1001.6 736.3 1011.2 738.8 1014 739.6" stroke="#1a1a1a" stroke-width="1.1" fill="none"/>
<path d="M1041.6 718.4 L1053.2 749.8" stroke="#1a1a1a" stroke-width="1.2"/>
<ellipse cx="935.3" cy="657.7" rx="9.7" ry="4" fill="none" stroke="#1a1a1a" stroke-width="1.1"/>
<path d="M925.6 656 C924.5 657.4 920.8 661.2 919.2 664.2 C917.6 667.2 916 670.8 916 673.8 C916 676.8 917.7 678.7 919.2 681.9 C920.7 685.1 923.6 688.9 924.8 693.2 C926 697.5 927.1 703.7 926.4 707.7 C925.7 711.7 923.3 713.6 920.8 717.4 C918.2 721.1 913.5 726.5 911.1 730.2 C908.7 734 907.1 735.6 906.3 739.9 C905.5 744.2 905.6 750.4 906.3 756 C907 761.6 908.7 770 910.3 773.8 C911.9 777.6 913.2 776.9 916 778.6 C918.8 780.3 923.7 783.2 927.2 784.2 C930.7 785.2 935.4 784.4 937 784.4" stroke="#1a1a1a" stroke-width="1.1" fill="none"/>
<path d="M916.8 674.6 C918.1 675.8 922.5 678.8 924.8 681.9 C927.1 685 929 689.4 930.5 693.2 C932 697 933.6 699.9 933.7 704.5 C933.8 709.1 932.5 715.2 931.3 720.6 C930.1 726 927.8 731.3 926.4 736.7 C925 742.1 923.6 747.4 923.2 752.8 C922.8 758.2 923.3 763.7 924 768.9 C924.7 774.1 926.7 781.7 927.2 784.2" stroke="#1a1a1a" stroke-width="1.1" fill="none"/>
<path d="M945 656 C945.5 657.4 947 660.4 948.2 664.2 C949.4 668 951.3 674.7 952.2 678.7 C953.1 682.7 953.9 684.5 953.8 688.3 C953.7 692 952.5 697.7 951.4 701.2 C950.3 704.7 948.1 706.1 947.4 709.3 C946.7 712.5 946.7 717.1 947.4 720.6 C948.1 724.1 950.2 727.2 951.4 730.2 C952.6 733.2 954 734.5 954.6 738.3 C955.2 742.1 955 749.1 955 752.8 C955 756.5 954.7 759.2 954.6 760.5" stroke="#1a1a1a" stroke-width="1.1" fill="none"/>
<rect x="930.8" y="784.4" width="6.4" height="6.9" fill="#fff" stroke="#111" stroke-width="1.4"/>
<path d="M933.2 784.4 L933.2 791.3" stroke="#333" stroke-width="0.9"/>
<path d="M934.8 784.4 L934.8 791.3" stroke="#333" stroke-width="0.9"/>
<path d="M937.2 755.8 L937.2 784.6" stroke="#1a1a1a" stroke-width="1.2"/>
<path d="M937.2 755.8 C938.5 755.5 943 753.3 945 754 C947 754.7 948.3 758.2 949.2 760 C950.1 761.8 949.6 764.4 950.4 764.8 C951.2 765.2 952.2 763.4 954 762.4 C955.8 761.4 958.6 759.6 961.2 758.8 C963.8 758 966.8 757.4 969.6 757.6 C972.4 757.8 975.2 758.8 978 760 C980.8 761.2 983.6 762.8 986.4 764.8 C989.2 766.8 992.2 769.2 994.8 772 C997.4 774.8 1000 778.4 1002 781.6 C1004 784.8 1005.5 788.2 1006.8 791.2 C1008.1 794.2 1009.3 798.2 1009.8 799.6" stroke="#1a1a1a" stroke-width="1.1" fill="none"/>
<path d="M961 757.2 C962.5 757.6 966.8 758.6 970 759.5 C973.2 760.4 977.1 760.7 980.4 762.4 C983.7 764.1 986.8 766.4 990 769.6 C993.2 772.8 996.8 777.4 999.6 781.6 C1002.4 785.8 1005.2 791.2 1006.8 794.8 C1008.4 798.4 1008.6 801.6 1009 803" stroke="#1a1a1a" stroke-width="1.1" fill="none"/>
<path d="M937.2 784.6 L1008 829.6" stroke="#1a1a1a" stroke-width="1.2"/>
<ellipse cx="1031.7" cy="720.7" rx="10.5" ry="3.9" fill="none" stroke="#1a1a1a" stroke-width="1.1"/>
<path d="M1021.2 720 C1020.6 722.3 1018.6 729.6 1017.6 733.6 C1016.6 737.6 1015 741 1015.2 743.8 C1015.4 746.6 1017.6 747.1 1018.8 750.4 C1020 753.7 1021.8 759.6 1022.4 763.6 C1023 767.6 1023.2 770.6 1022.4 774.4 C1021.6 778.2 1019.4 783.2 1017.6 786.4 C1015.8 789.6 1013.2 790.6 1011.6 793.6 C1010 796.6 1008.7 800.4 1008 804.4 C1007.3 808.4 1007 811.8 1007.4 817.6 C1007.8 823.4 1007.3 834 1010.4 839.2 C1013.5 844.4 1023.4 847.2 1026 848.8" stroke="#1a1a1a" stroke-width="1.1" fill="none"/>
<path d="M1042.2 720 C1042.7 721.7 1043.9 726.7 1045.2 730 C1046.5 733.3 1048.6 736.6 1050 739.6 C1051.4 742.6 1053.6 745.2 1053.6 748 C1053.6 750.8 1051.1 753.2 1050 756.4 C1048.9 759.6 1047.3 763 1047 767.2 C1046.7 771.4 1046.9 776.8 1048.2 781.6 C1049.5 786.4 1053.1 791.6 1054.8 796 C1056.5 800.4 1057.7 804 1058.4 808 C1059.1 812 1059.2 816 1059 820 C1058.8 824 1057.7 827.8 1057.2 832 C1056.7 836.2 1056.2 843 1056 845.2" stroke="#1a1a1a" stroke-width="1.1" fill="none"/>
<path d="M1015.2 743.8 C1016.6 743.5 1019.8 742.2 1023.6 742 C1027.4 741.8 1033.5 742.6 1038 742.8 C1042.5 743 1048.4 743.1 1050.5 743.2" stroke="#1a1a1a" stroke-width="1.1" fill="none"/>
<path d="M1024.8 743.2 C1025.6 745.2 1028.3 750.4 1029.6 755.2 C1030.9 760 1032.5 766 1032.6 772 C1032.7 778 1031.3 785.2 1030.2 791.2 C1029.1 797.2 1026.8 803.2 1026 808 C1025.2 812.8 1025.2 813.2 1025.4 820 C1025.6 826.8 1026.9 844 1027.2 848.8" stroke="#1a1a1a" stroke-width="1.1" fill="none"/>
<path d="M1026 848.8 L1056 845.2" stroke="#1a1a1a" stroke-width="1.2"/>
<rect x="1030.6" y="849" width="7" height="7.6" fill="#fff" stroke="#111" stroke-width="1.4"/>
<path d="M1033.3 849 L1033.3 856.6" stroke="#333" stroke-width="0.9"/>
<path d="M1034.9 849 L1034.9 856.6" stroke="#333" stroke-width="0.9"/>
<path d="M1059.3 812.7 C1061.1 812.4 1067.1 812.4 1070 810.7 C1072.9 809 1074.7 805.6 1076.7 802.7 C1078.7 799.8 1080.5 795 1082 793.3 C1083.5 791.6 1084.7 792.3 1086 792.4 C1087.3 792.5 1088.2 793 1090 794 C1091.8 795 1094.5 797.4 1096.7 798.7 C1098.9 800 1101.1 801.2 1103.3 802 C1105.5 802.8 1107.8 803.2 1110 803.3 C1112.2 803.4 1114.2 803.2 1116.7 802.4 C1119.2 801.6 1121.4 800.9 1124.7 798.7 C1128 796.5 1132.5 792.4 1136.7 789.3 C1140.9 786.2 1145.6 782.8 1150 780 C1154.4 777.2 1157.8 775.2 1163.3 772.7 C1168.8 770.2 1176.6 766.9 1183.3 764.7 C1190 762.5 1196.6 760.8 1203.3 759.3 C1210 757.8 1217.7 756.4 1223.3 756 C1228.9 755.6 1232.2 756 1236.7 756.7 C1241.2 757.4 1245.8 759 1250 760 C1254.2 761 1257 761.4 1261.8 762.9 C1266.5 764.4 1273.3 768.5 1278.5 769.2 C1283.7 769.9 1288.9 769.2 1293.1 767.1 C1297.3 765 1300 760.2 1303.5 756.7 C1307 753.2 1310.9 747.8 1314 746.2 C1317.1 744.6 1319.5 745.5 1322.3 747.3 C1325.1 749 1326.9 755.5 1330.7 756.7 C1334.5 757.9 1341.5 755.7 1345.3 754.6 C1349.1 753.5 1351.7 750.8 1353.6 750.4 C1355.5 750 1356.3 752.1 1356.8 752.5" stroke="#1a1a1a" stroke-width="1.1" fill="none"/>
<path d="M1059.9 815.1 C1061.7 814.8 1067.7 814.8 1070.6 813.1 C1073.5 811.4 1075.3 808 1077.3 805.1 C1079.3 802.2 1081 797.4 1082.6 795.7 C1084.1 794 1085.3 794.7 1086.6 794.8 C1087.9 794.9 1088.8 795.3 1090.6 796.4 C1092.4 797.5 1095.1 799.8 1097.3 801.1 C1099.5 802.4 1101.7 803.6 1103.9 804.4 C1106.1 805.2 1108.4 805.6 1110.6 805.7 C1112.8 805.8 1114.8 805.6 1117.3 804.8 C1119.8 804 1122 803.3 1125.3 801.1 C1128.6 798.9 1133.1 794.8 1137.3 791.7 C1141.5 788.6 1146.2 785.2 1150.6 782.4 C1155 779.6 1158.3 777.6 1163.9 775.1 C1169.4 772.6 1177.2 769.3 1183.9 767.1 C1190.6 764.9 1197.2 763.1 1203.9 761.7 C1210.6 760.2 1218.3 758.8 1223.9 758.4 C1229.5 758 1232.8 758.4 1237.3 759.1 C1241.8 759.8 1246.4 761.4 1250.6 762.4 C1254.8 763.4 1257.6 763.8 1262.4 765.3 C1267.1 766.8 1273.9 770.9 1279.1 771.6 C1284.3 772.3 1289.5 771.6 1293.7 769.5 C1297.9 767.4 1300.6 762.6 1304.1 759.1 C1307.6 755.6 1311.5 750.2 1314.6 748.6 C1317.7 747 1320.1 747.9 1322.9 749.7 C1325.7 751.4 1327.5 757.9 1331.3 759.1 C1335.1 760.3 1342.1 758 1345.9 757 C1349.7 756 1352.8 753.5 1354.2 752.8" stroke="#1a1a1a" stroke-width="1.1" fill="none"/>
<path d="M1356.8 752.5 L1356.8 778.6" stroke="#1a1a1a" stroke-width="1.2"/>
<path d="M1057.3 839.3 L1356.8 778.6" stroke="#1a1a1a" stroke-width="1.2"/>
<ellipse cx="1115.3" cy="803.3" rx="1.3" ry="1" fill="#333"/>
<ellipse cx="1270.1" cy="587.5" rx="11.5" ry="4.2" fill="none" stroke="#1a1a1a" stroke-width="1.1"/>
<path d="M1258.6 588.2 C1257.7 590.2 1255.1 596 1253.4 600.1 C1251.7 604.2 1248.7 608.4 1248.2 612.6 C1247.7 616.8 1249.1 620.9 1250.3 625.1 C1251.5 629.3 1254.8 632.7 1255.5 637.6 C1256.2 642.5 1255.9 649.4 1254.5 654.3 C1253.1 659.2 1249 662.7 1247.1 666.9 C1245.2 671.1 1243.7 675.9 1243 679.4 C1242.3 682.9 1243 686.4 1243 687.8" stroke="#1a1a1a" stroke-width="1.1" fill="none"/>
<path d="M1261.8 591.7 C1261.3 594.1 1259.1 600.7 1258.6 606.3 C1258.1 611.9 1257.7 619.2 1258.6 625.1 C1259.5 631 1263 635.5 1263.9 641.8 C1264.8 648.1 1264.2 655.7 1263.9 662.7 C1263.6 669.7 1262.3 677.3 1261.8 683.6 C1261.3 689.9 1260.9 694.9 1260.7 700.3 C1260.5 705.7 1260.7 713.4 1260.7 716" stroke="#1a1a1a" stroke-width="1.1" fill="none"/>
<path d="M1281.6 588.2 C1282.1 590.5 1283.7 597.3 1284.7 602.1 C1285.8 606.9 1288.2 612.3 1287.9 616.8 C1287.6 621.3 1284 625.1 1282.6 629.3 C1281.2 633.5 1279.5 636.9 1279.5 641.8 C1279.5 646.7 1280.7 653.6 1282.6 658.5 C1284.5 663.4 1289.1 666.9 1291 671.1 C1292.9 675.3 1293.8 680.1 1294.1 683.6 C1294.4 687.1 1293.3 690.5 1293.1 691.9" stroke="#1a1a1a" stroke-width="1.1" fill="none"/>
<path d="M1255.5 684 L1255.5 716" stroke="#1a1a1a" stroke-width="1.2"/>
<path d="M1272.4 685.7 L1272.4 717" stroke="#1a1a1a" stroke-width="1.2"/>
<path d="M1255.5 716 L1272.4 717" stroke="#1a1a1a" stroke-width="1.2"/>
<rect x="1264.9" y="716.6" width="6.4" height="6.7" fill="#fff" stroke="#111" stroke-width="1.4"/>
<path d="M1267.3 716.6 L1267.3 723.3" stroke="#333" stroke-width="0.9"/>
<path d="M1268.9 716.6 L1268.9 723.3" stroke="#333" stroke-width="0.9"/>
<path d="M1272.4 685.7 C1273.8 685.7 1278.9 683.9 1280.6 685.5 C1282.3 687.1 1281.6 693.5 1282.6 695.1 C1283.6 696.7 1285 695.6 1286.8 695.1 C1288.5 694.6 1290.3 692.9 1293.1 691.9 C1295.9 690.9 1300 689.6 1303.5 689.4 C1307 689.2 1310.2 689.4 1314 690.9 C1317.8 692.4 1322.7 695.2 1326.5 698.2 C1330.3 701.2 1333.8 704.8 1336.9 708.6 C1340 712.4 1343.4 718.1 1345.3 721.2 C1347.2 724.3 1347.9 726.4 1348.4 727.4" stroke="#1a1a1a" stroke-width="1.1" fill="none"/>
<path d="M1303.5 689.4 C1305.9 690.4 1313.2 691.9 1318.1 695.1 C1323 698.3 1328.6 703.6 1332.8 708.6 C1337 713.6 1341 720.8 1343.2 725.3 C1345.5 729.8 1345.8 734 1346.3 735.8" stroke="#1a1a1a" stroke-width="1.1" fill="none"/>
<ellipse cx="1368.8" cy="651.2" rx="12" ry="4.2" fill="none" stroke="#1a1a1a" stroke-width="1.1"/>
<path d="M1357.8 651.5 C1357.1 653.4 1354.8 658.1 1353.6 662.7 C1352.4 667.4 1350.8 674.2 1350.5 679.4 C1350.2 684.6 1350.6 689.1 1351.5 694 C1352.4 698.9 1355.4 704.1 1355.7 708.6 C1356 713.1 1354.8 717 1353.6 721.2 C1352.4 725.4 1349.6 729.2 1348.4 733.7 C1347.2 738.2 1346.6 745.2 1346.3 748.3 C1346 751.4 1346.7 751.8 1346.8 752.5" stroke="#1a1a1a" stroke-width="1.1" fill="none"/>
<path d="M1387 666.9 C1385 667.7 1378.5 669.8 1375 671.5 C1371.5 673.2 1368.4 673.2 1366.2 677.3 C1364 681.4 1362.3 690.2 1362 696.1 C1361.7 702 1363.4 706.9 1364.1 712.8 C1364.8 718.7 1365.8 725 1366.2 731.6 C1366.6 738.2 1366.4 744.1 1366.2 752.5 C1366 760.9 1365.3 776.8 1365.1 781.7" stroke="#1a1a1a" stroke-width="1.1" fill="none"/>
<path d="M1380.8 651.5 C1381.8 654.1 1386.7 662.2 1387 666.9 C1387.3 671.5 1384.3 674.5 1382.9 679.4 C1381.5 684.3 1378.4 690.5 1378.7 696.1 C1379 701.7 1382.6 707.2 1385 712.8 C1387.4 718.4 1391.6 723.6 1393.3 729.5 C1395 735.4 1395.6 740.5 1395.4 748.3 C1395.2 756.1 1392.8 771.8 1392.3 776.5" stroke="#1a1a1a" stroke-width="1.1" fill="none"/>
<path d="M1365.1 781.7 L1392.3 776.5" stroke="#1a1a1a" stroke-width="1.2"/>
<rect x="1366.4" y="781" width="7" height="7" fill="#fff" stroke="#111" stroke-width="1.4"/>
<path d="M1369.1 781 L1369.1 788" stroke="#333" stroke-width="0.9"/>
<path d="M1370.7 781 L1370.7 788" stroke="#333" stroke-width="0.9"/>
<path d="M929.6 799.5 L929.8 839.8" stroke="#f37e1f" stroke-width="2.6" stroke-linecap="round"/>
<path d="M929.6 852.7 L922.4 839.8 L937.2 839.8 Z" fill="#f37e1f" stroke="#f37e1f" stroke-width="0.8" stroke-linejoin="round"/>
<path d="M1034.5 857.5 L1034.9 898.4" stroke="#f37e1f" stroke-width="2.6" stroke-linecap="round"/>
<path d="M1034.5 912.3 L1027.6 898.4 L1042.3 898.4 Z" fill="#f37e1f" stroke="#f37e1f" stroke-width="0.8" stroke-linejoin="round"/>
<path d="M1269.5 728.5 L1269.3 746.2" stroke="#f37e1f" stroke-width="2.6" stroke-linecap="round"/>
<path d="M1269.5 759.8 L1261.8 746.2 L1276.8 746.2 Z" fill="#f37e1f" stroke="#f37e1f" stroke-width="0.8" stroke-linejoin="round"/>
<path d="M1371.4 793.2 L1371.4 832.9" stroke="#f37e1f" stroke-width="2.6" stroke-linecap="round"/>
<path d="M1371.4 847.5 L1364.1 832.9 L1378.7 832.9 Z" fill="#f37e1f" stroke="#f37e1f" stroke-width="0.8" stroke-linejoin="round"/>
<text transform="translate(386.04 682.6) scale(0.95 1)" font-size="34.3" font-family="Liberation Sans, sans-serif" fill="#000">A</text>
<text transform="translate(1143.93 912.0) scale(0.94 1)" font-size="39.97" font-family="Liberation Sans, sans-serif" fill="#000">A</text>
<text transform="translate(325.08 1172.0) scale(0.88 1)" font-size="33.72" font-family="Liberation Sans, sans-serif" fill="#000">B</text>
<text transform="translate(418.66 1242.0) scale(0.85 1)" font-size="34.74" font-family="Liberation Sans, sans-serif" fill="#000">B</text>
<text transform="translate(131.27 1255.15) scale(0.81 1)" font-size="34.89" font-family="Liberation Sans, sans-serif" fill="#000">C</text>
<text transform="translate(636.74 1163.66) scale(0.84 1)" font-size="34.04" font-family="Liberation Sans, sans-serif" fill="#000">C</text>
<text transform="translate(1103.69 734.1) scale(0.9 1)" font-size="40.55" font-family="Liberation Sans, sans-serif" fill="#000">B</text>
<text transform="translate(1212.99 796.9) scale(0.88 1)" font-size="40.41" font-family="Liberation Sans, sans-serif" fill="#000">B</text>
<text transform="translate(959.57 797.97) scale(0.84 1)" font-size="33.33" font-family="Liberation Sans, sans-serif" fill="#000">C</text>
<text transform="translate(1295.27 728.67) scale(0.84 1)" font-size="33.47" font-family="Liberation Sans, sans-serif" fill="#000">C</text>
</g><!--/GEN-->
</svg>
</body></html>
